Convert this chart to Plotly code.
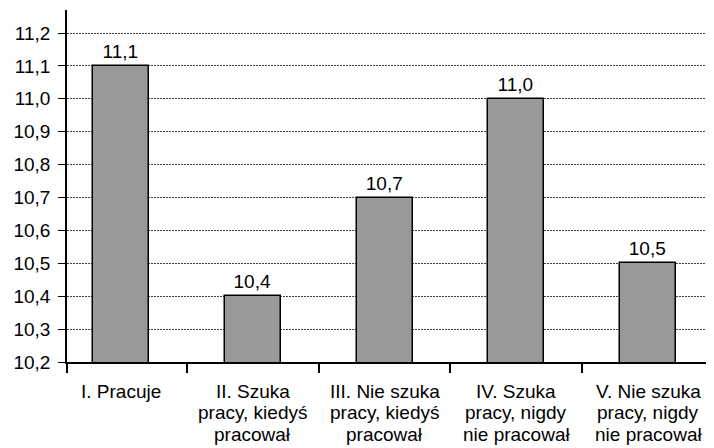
import plotly.graph_objects as go

categories = [
    ["I. Pracuje"],
    ["II. Szuka", "pracy, kiedyś", "pracował"],
    ["III. Nie szuka", "pracy, kiedyś", "pracował"],
    ["IV. Szuka", "pracy, nigdy", "nie pracował"],
    ["V. Nie szuka", "pracy, nigdy", "nie pracował"],
]
values = [11.1, 10.4, 10.7, 11.0, 10.5]
ytick_vals = [10.2, 10.3, 10.4, 10.5, 10.6, 10.7, 10.8, 10.9, 11.0, 11.1, 11.2]

xpos = list(range(len(categories)))
FONT = "Liberation Sans, Arial"

fig = go.Figure(go.Bar(
    x=xpos, y=values, width=0.424,
    marker=dict(color="#999999", line=dict(color="#000000", width=1.5)),
    texttemplate="%{y:.1f}", textposition="outside", cliponaxis=False,
    textfont=dict(family=FONT, size=19, color="#000000"),
))

# category labels, one annotation per line for tight line spacing
for i, lines in enumerate(categories):
    for j, line in enumerate(lines):
        fig.add_annotation(x=xpos[i], xref="x", y=0, yref="paper", text=line,
                           showarrow=False, xanchor="center", yanchor="middle",
                           yshift=-(29 + 21.5 * j),
                           font=dict(family=FONT, size=19, color="#000000"))

# page body has an 8px default margin, so the figure is sized to the visible area
fig.update_layout(
    width=706, height=440,
    margin=dict(l=59, r=0, t=2, b=86, autoexpand=False),
    plot_bgcolor="white", paper_bgcolor="white",
    separators=", ",
    showlegend=False,
    font=dict(family=FONT, size=19, color="#000000"),
    bargap=0,
)
fig.update_xaxes(
    range=[-0.41, 4.5], automargin=False,
    tickmode="array", tickvals=[-0.41, 0.5, 1.5, 2.5, 3.5], ticktext=["", "", "", "", ""],
    ticks="outside", ticklen=9, tickcolor="#000000", tickwidth=1.5,
    showline=True, linecolor="#000000", linewidth=1.5,
    showgrid=False, zeroline=False,
)
fig.update_yaxes(
    range=[10.2, 11.27], automargin=False,
    tickmode="array", tickvals=ytick_vals,
    tickformat=".1f",
    ticks="outside", ticklen=7, tickcolor="#000000", tickwidth=1,
    showline=True, linecolor="#000000", linewidth=1.5,
    showgrid=True, gridcolor="#444444", gridwidth=1, griddash="2px,1px",
    zeroline=False,
    ticklabelstandoff=4,
    tickfont=dict(size=19),
)

fig.write_html("out.html")
